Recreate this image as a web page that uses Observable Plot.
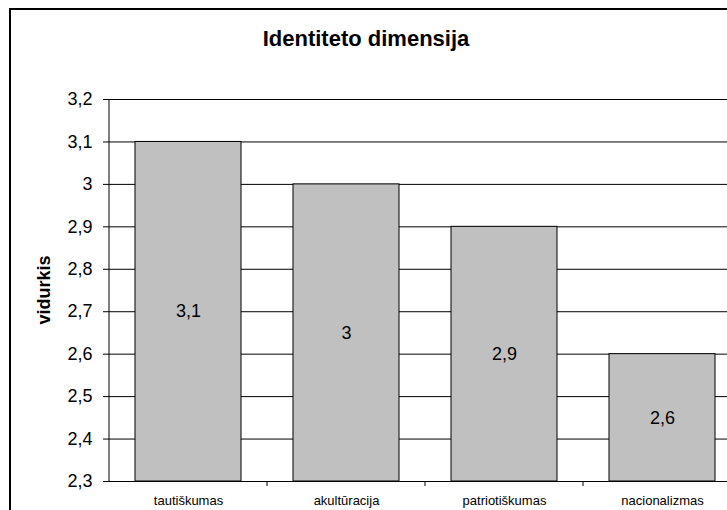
<!DOCTYPE html>
<html><head><meta charset="utf-8">
<script src="https://cdn.jsdelivr.net/npm/d3@7"></script>
<script src="https://cdn.jsdelivr.net/npm/@observablehq/plot@0.6"></script>
<style>
body{margin:0;background:#fff;font-family:"Liberation Sans",Arial,sans-serif;}
#wrap{position:relative;width:727px;height:510px;overflow:hidden;background:#fff;}
#border{position:absolute;left:9px;top:8px;width:800px;height:600px;border:2px solid #000;box-sizing:border-box;}
#title{position:absolute;left:0;width:732px;top:28px;line-height:22px;text-align:center;font-weight:bold;font-size:22px;color:#000;}
#ylab{position:absolute;left:44px;top:290px;transform:translate(-50%,-50%) rotate(-90deg);font-weight:bold;font-size:18px;line-height:18px;color:#000;white-space:nowrap;}
#chart{position:absolute;left:0;top:0;}
</style>
</head><body>
<div id="wrap">
  <div id="border"></div>
  <div id="chart"></div>
  <div id="title">Identiteto dimensija</div>
  <div id="ylab">vidurkis</div>
</div>
<script>
const categories = ["tautiškumas", "akultūracija", "patriotiškumas", "nacionalizmas"];
const values = [3.1, 3.0, 2.9, 2.6];
const yTicks = [2.3, 2.4, 2.5, 2.6, 2.7, 2.8, 2.9, 3.0, 3.1, 3.2];
const baseValue = 2.3;

const data = categories.map((c, i) => ({cat: c, v: values[i]}));
const fmt = d => String(+(+d).toFixed(1)).replace(".", ",");

function axisLines(index, scales, vals, dims) {
  const x = scales.x, y = scales.y;
  const bw = x.bandwidth ? x.bandwidth() : 106;
  const step = x.step ? x.step() : 158;
  const g = d3.create("svg:g").attr("stroke", "#000").attr("stroke-width", 1);
  const yTop = y(yTicks[yTicks.length - 1]), yBot = y(baseValue);
  const x0 = x(categories[0]) - (step - bw) / 2;
  g.append("line").attr("x1", x0).attr("x2", x0).attr("y1", yTop).attr("y2", yBot);
  categories.forEach((c, i) => {
    if (i === 0) return;
    const bx = x(c) - (step - bw) / 2;
    g.append("line").attr("x1", bx).attr("x2", bx).attr("y1", yBot).attr("y2", yBot + 5);
  });
  return g.node();
}

const chart = Plot.plot({
  width: 727,
  height: 510,
  marginTop: 99,
  marginBottom: 29,
  marginLeft: 109,
  marginRight: 0,
  style: {fontFamily: '"Liberation Sans", Arial, sans-serif', fontSize: "18px", color: "#000", background: "transparent", overflow: "visible"},
  x: {domain: categories, range: [109, 741], paddingInner: 52 / 158, paddingOuter: 26 / 158, label: null},
  y: {domain: [2.3, 3.2], label: null},
  marks: [
    Plot.ruleY(yTicks, {stroke: "#000", strokeWidth: 1}),
    Plot.barY(data, {x: "cat", y1: baseValue, y2: "v", fill: "#c0c0c0", stroke: "#000", strokeWidth: 1}),
    Plot.text(data, {x: "cat", y: d => (d.v + baseValue) / 2, text: d => fmt(d.v), fontSize: 18, fill: "#000"}),
    Plot.axisY({ticks: yTicks, tickFormat: fmt, tickSize: 6, tickPadding: 11, fontSize: 18, label: null}),
    Plot.axisX({tickSize: 0, tickPadding: 14, fontSize: 13, label: null}),
    axisLines
  ]
});
document.getElementById("chart").appendChild(chart);
</script>
</body></html>
